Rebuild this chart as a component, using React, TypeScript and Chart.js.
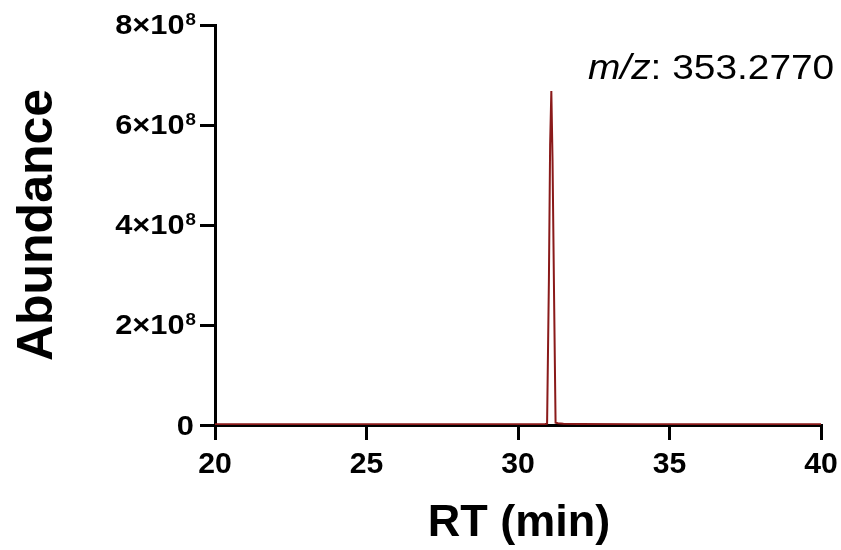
import React, { useEffect, useRef } from "react";
import { Chart, registerables } from "chart.js";

Chart.register(...registerables);

const rtMinutes = [20, 22, 24, 26, 28, 30, 30.9, 30.96, 31.02, 31.06, 31.1, 31.14, 31.19, 31.24, 31.32, 31.5, 32, 34, 36, 38, 40];
const abundance = [1.5e6, 1.5e6, 1.5e6, 1.6e6, 1.5e6, 1.6e6, 1.8e6, 2.5e6, 2.9e8, 5.6e8, 6.68e8, 5.3e8, 2.6e8, 4.5e6, 3.5e6, 2.5e6, 2e6, 1.7e6, 1.6e6, 1.5e6, 1.5e6];
const xTickLabels = ["20", "25", "30", "35", "40"];
const yTickMantissa = ["0", "2", "4", "6", "8"];
const yTickExponent = "8";
const xTitle = "RT (min)";
const yTitle = "Abundance";
const annotationItalic = "m/z";
const annotationRest = ": 353.2770";

const FONT = "'Liberation Sans', Arial, Helvetica, sans-serif";

function stretchText(
  ctx: CanvasRenderingContext2D,
  text: string,
  x: number,
  y: number,
  font: string,
  align: "left" | "right" | "center",
  sx: number
) {
  ctx.save();
  ctx.font = font;
  ctx.textBaseline = "alphabetic";
  ctx.textAlign = "left";
  const w = ctx.measureText(text).width * sx;
  let left = x;
  if (align === "right") left = x - w;
  else if (align === "center") left = x - w / 2;
  ctx.translate(left, y);
  ctx.scale(sx, 1);
  ctx.fillText(text, 0, 0);
  ctx.restore();
  return w;
}

const overlayPlugin = {
  id: "overlay",
  afterDraw(chart: any) {
    const ctx = chart.ctx as CanvasRenderingContext2D;
    const y = chart.scales.y;
    const x = chart.scales.x;
    const area = chart.chartArea;
    ctx.save();
    ctx.fillStyle = "#000";
    const mainFont = `bold 28px ${FONT}`;
    const supFont = `bold 17px ${FONT}`;
    const sx = 1.1;
    // y tick labels with superscript
    y.ticks.forEach((t: any, i: number) => {
      const py = y.getPixelForValue(t.value);
      const right = area.left - 19;
      const m = yTickMantissa[i] ?? "";
      if (t.value === 0) {
        stretchText(ctx, "0", right - 2, py + 10, mainFont, "right", sx);
        return;
      }
      const supW = stretchText(ctx, yTickExponent, right, py, supFont, "right", sx);
      stretchText(ctx, m + "\u00d710", right - supW - 1, py + 9, mainFont, "right", sx);
    });
    // x tick labels
    x.ticks.forEach((t: any, i: number) => {
      const px = x.getPixelForValue(t.value);
      stretchText(ctx, xTickLabels[i] ?? String(t.value), px, 473, `bold 29px ${FONT}`, "center", 1.04);
    });
    // axis titles
    ctx.font = `bold 45px ${FONT}`;
    ctx.textAlign = "center";
    ctx.textBaseline = "alphabetic";
    ctx.fillText(xTitle, (area.left + area.right) / 2 + 1, 536);
    ctx.save();
    ctx.translate(52, 225);
    ctx.rotate(-Math.PI / 2);
    ctx.font = `bold 50px ${FONT}`;
    ctx.fillText(yTitle, 0, 0);
    ctx.restore();
    // annotation
    const x0 = 588;
    const w = stretchText(ctx, annotationItalic, x0, 79, `italic 35px ${FONT}`, "left", 1.11);
    stretchText(ctx, annotationRest, x0 + w, 79, `35px ${FONT}`, "left", 1.11);
    ctx.restore();
  },
};

export default function App() {
  const ref = useRef<HTMLCanvasElement>(null);
  useEffect(() => {
    if (!ref.current) return;
    const chart = new Chart(ref.current, {
      type: "line",
      data: {
        datasets: [
          {
            data: rtMinutes.map((x, i) => ({ x, y: abundance[i] })),
            borderColor: "#8a1a1a",
            borderWidth: 2,
            pointRadius: 0,
            tension: 0,
            fill: false,
          },
        ],
      },
      options: {
        responsive: false,
        animation: false,
        plugins: { legend: { display: false }, tooltip: { enabled: false } },
        layout: { padding: { top: 25, right: 20, left: 0, bottom: 0 } },
        scales: {
          x: {
            type: "linear",
            min: 20,
            max: 40,
            ticks: {
              stepSize: 5,
              callback: () => "",
            },
            grid: { display: true, drawOnChartArea: false, drawTicks: true, tickLength: 15, color: "#000", lineWidth: 3 },
            border: { display: true, color: "#000", width: 3 },
            afterFit(scale: any) {
              scale.height = 125;
            },
          },
          y: {
            type: "linear",
            min: 0,
            max: 8e8,
            ticks: {
              stepSize: 2e8,
              callback: () => "",
            },
            grid: { display: true, drawOnChartArea: false, drawTicks: true, tickLength: 15, color: "#000", lineWidth: 3 },
            border: { display: true, color: "#000", width: 3 },
            afterFit(scale: any) {
              scale.width = 215;
            },
          },
        },
      },
      plugins: [overlayPlugin],
    });
    return () => chart.destroy();
  }, []);
  return (
    <div style={{ position: "absolute", left: 0, top: 0, width: 841, height: 550, background: "#fff" }}>
      <canvas ref={ref} width={841} height={550} style={{ display: "block" }} />
    </div>
  );
}
